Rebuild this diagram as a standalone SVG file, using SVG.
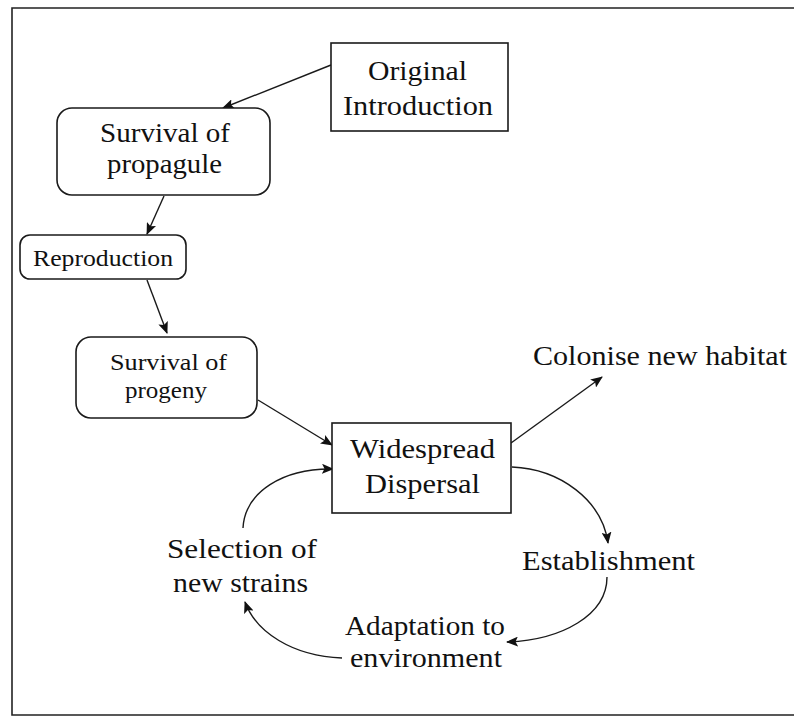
<svg xmlns="http://www.w3.org/2000/svg" width="794" height="718" viewBox="0 0 794 718">
  <style>
    .frame { fill: none; stroke: #222; stroke-width: 1.6; }
    .box { fill: #fff; stroke: #1a1a1a; stroke-width: 1.6; }
    .lbl { font-family: "Liberation Serif", "Times New Roman", serif; fill: #111; }
    .big { font-size: 27px; }
    .mid { font-size: 24px; }
    .edge { fill: none; stroke: #1a1a1a; stroke-width: 1.4; marker-end: url(#arrow); }
  </style>
  <defs>
    <marker id="arrow" viewBox="0 0 12 10" refX="11" refY="5" markerWidth="12" markerHeight="10" markerUnits="userSpaceOnUse" orient="auto">
      <path d="M0,0 L12,5 L0,10 L2.5,5 Z" fill="#111"/>
    </marker>
  </defs>

  <rect width="794" height="718" fill="#fff"/>
  <!-- outer border, open on the right -->
  <path class="frame" d="M800,8 L12,8 L12,715 L800,715"/>

  <g id="connectors">
    <path class="edge" d="M331,65 L223,108"/>
    <path class="edge" d="M164,196 L147,234"/>
    <path class="edge" d="M147,280 L167,333"/>
    <path class="edge" d="M258,400 L332,445"/>
    <path class="edge" d="M511,443 L602,377"/>
    <path class="edge" d="M512,467 C560,469 602,500 608,543"/>
    <path class="edge" d="M607,577 C607,615 562,640 507,642"/>
    <path class="edge" d="M342,658 C292,656 256,632 245,602"/>
    <path class="edge" d="M243,528 C245,492 283,468 333,469"/>
  </g>

  <g id="original-introduction">
    <rect class="box" x="331" y="43" width="177" height="88"/>
    <text class="lbl big" x="368" y="80" textLength="99" lengthAdjust="spacingAndGlyphs">Original</text>
    <text class="lbl big" x="343" y="115" textLength="150" lengthAdjust="spacingAndGlyphs">Introduction</text>
  </g>

  <g id="survival-propagule">
    <rect class="box" x="57" y="108" width="213" height="87" rx="15"/>
    <text class="lbl big" x="100" y="142" textLength="130" lengthAdjust="spacingAndGlyphs">Survival of</text>
    <text class="lbl big" x="107" y="173" textLength="115" lengthAdjust="spacingAndGlyphs">propagule</text>
  </g>

  <g id="reproduction">
    <rect class="box" x="20" y="235" width="166" height="44" rx="10"/>
    <text class="lbl mid" x="33" y="266" textLength="140" lengthAdjust="spacingAndGlyphs">Reproduction</text>
  </g>

  <g id="survival-progeny">
    <rect class="box" x="76" y="337" width="181" height="81" rx="15"/>
    <text class="lbl mid" x="110" y="370" textLength="117" lengthAdjust="spacingAndGlyphs">Survival of</text>
    <text class="lbl mid" x="125" y="398" textLength="82" lengthAdjust="spacingAndGlyphs">progeny</text>
  </g>

  <g id="widespread-dispersal">
    <rect class="box" x="332" y="423" width="179" height="90"/>
    <text class="lbl big" x="350" y="458" textLength="145" lengthAdjust="spacingAndGlyphs">Widespread</text>
    <text class="lbl big" x="365" y="493" textLength="115" lengthAdjust="spacingAndGlyphs">Dispersal</text>
  </g>

  <g id="colonise">
    <text class="lbl big" x="533" y="365" textLength="254" lengthAdjust="spacingAndGlyphs">Colonise new habitat</text>
  </g>

  <g id="establishment">
    <text class="lbl big" x="522" y="570" textLength="173" lengthAdjust="spacingAndGlyphs">Establishment</text>
  </g>

  <g id="adaptation">
    <text class="lbl big" x="345" y="635" textLength="160" lengthAdjust="spacingAndGlyphs">Adaptation to</text>
    <text class="lbl big" x="350" y="667" textLength="152" lengthAdjust="spacingAndGlyphs">environment</text>
  </g>

  <g id="selection">
    <text class="lbl big" x="167" y="558" textLength="150" lengthAdjust="spacingAndGlyphs">Selection of</text>
    <text class="lbl big" x="173" y="592" textLength="135" lengthAdjust="spacingAndGlyphs">new strains</text>
  </g>
</svg>
